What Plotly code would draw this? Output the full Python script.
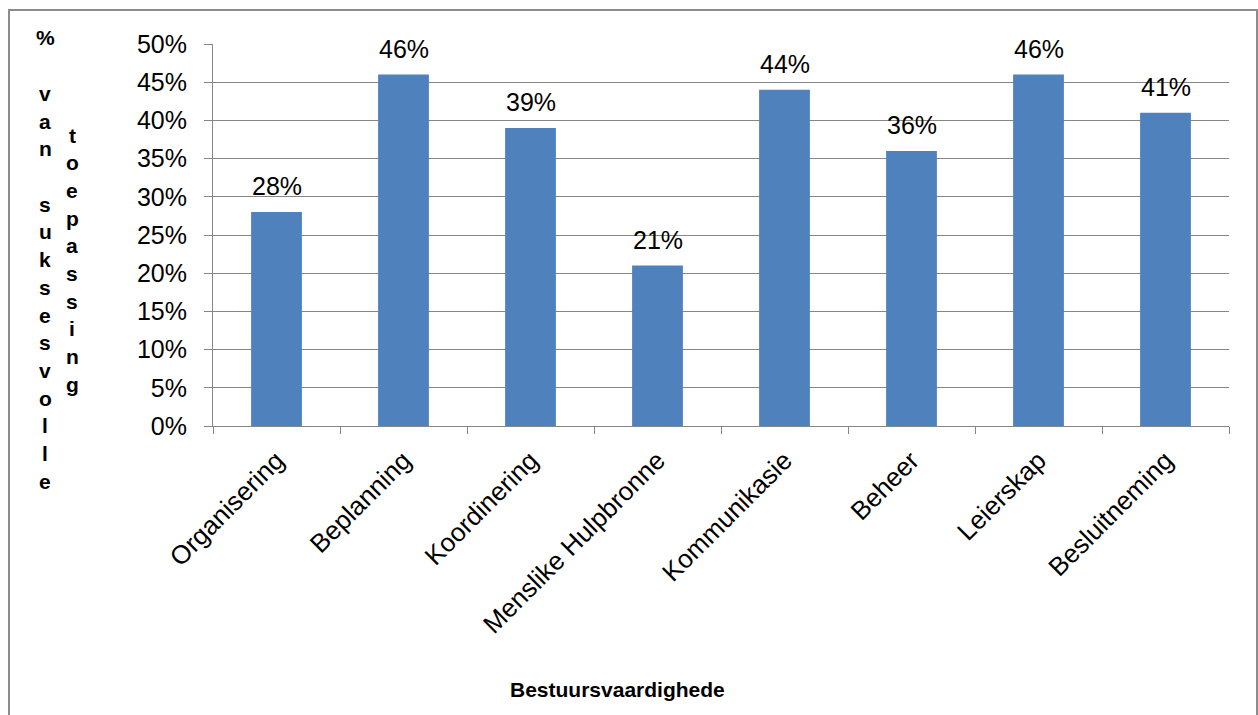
import plotly.graph_objects as go

categories = ["Organisering", "Beplanning", "Koordinering", "Menslike Hulpbronne",
              "Kommunikasie", "Beheer", "Leierskap", "Besluitneming"]
values = [0.28, 0.46, 0.39, 0.21, 0.44, 0.36, 0.46, 0.41]
y_ticks = [0, 0.05, 0.10, 0.15, 0.20, 0.25, 0.30, 0.35, 0.40, 0.45, 0.50]
x_title = "Bestuursvaardighede"
y_title_col1 = ["%", "", "v", "a", "n", "", "s", "u", "k", "s", "e", "s", "v", "o", "l", "l", "e"]
y_title_col2 = ["t", "o", "e", "p", "a", "s", "s", "i", "n", "g"]

W, H = 1258, 715
L, R, T, B = 213, 29, 44, 289
pw, ph = W - L - R, H - T - B
FONT = "Arial, Liberation Sans, sans-serif"
LABEL_SIZE = 25
XLABEL_SIZE = 26
TITLE_SIZE = 21

def px_x(x):
    return (x - L) / pw

def px_y(y):
    return (H - B - y) / ph

fig = go.Figure()
fig.add_trace(go.Bar(
    x=categories, y=values,
    marker=dict(color="#4F81BD", line=dict(width=0)),
    width=0.4,
    hoverinfo="x+y",
))

annotations = []
# data labels
for c, v in zip(categories, values):
    annotations.append(dict(text=f"{round(v * 100)}%", x=c, y=v, xref="x", yref="y",
                            showarrow=False, xanchor="center", yanchor="bottom",
                            yshift=10, font=dict(size=LABEL_SIZE, color="#000", family=FONT)))

line_h = 27.7
for i, ch in enumerate(y_title_col1):
    if ch:
        annotations.append(dict(text=f"<b>{ch}</b>", xref="paper", yref="paper",
                                x=px_x(45), y=px_y(38 + i * line_h), showarrow=False,
                                font=dict(size=TITLE_SIZE, color="#000", family=FONT),
                                xanchor="center", yanchor="middle"))
for i, ch in enumerate(y_title_col2):
    annotations.append(dict(text=f"<b>{ch}</b>", xref="paper", yref="paper",
                            x=px_x(72), y=px_y(135 + i * line_h), showarrow=False,
                            font=dict(size=TITLE_SIZE, color="#000", family=FONT),
                            xanchor="center", yanchor="middle"))
annotations.append(dict(text=f"<b>{x_title}</b>", xref="paper", yref="paper",
                        x=px_x(617), y=px_y(689), showarrow=False,
                        font=dict(size=TITLE_SIZE, color="#000", family=FONT),
                        xanchor="center", yanchor="middle"))

fig.update_layout(
    width=W, height=H,
    margin=dict(l=L, r=R, t=T, b=B, pad=0),
    paper_bgcolor="white", plot_bgcolor="white",
    font=dict(family=FONT, color="#000"),
    showlegend=False,
    annotations=annotations,
    shapes=[dict(type="rect", xref="paper", yref="paper",
                 x0=px_x(9), x1=px_x(1257), y0=px_y(740), y1=px_y(10),
                 line=dict(color="#8C8C8C", width=2), fillcolor="rgba(0,0,0,0)",
                 layer="below")],
    xaxis=dict(
        tickangle=-45, tickfont=dict(size=XLABEL_SIZE, color="#000", family=FONT),
        showline=True, linecolor="#868686", linewidth=1,
        ticks="outside", ticklen=7, tickcolor="#868686", tickson="boundaries",
        ticklabelstandoff=8,
        showgrid=False,
    ),
    yaxis=dict(
        range=[0, 0.5], tickvals=y_ticks, tickformat=".0%",
        tickfont=dict(size=LABEL_SIZE, color="#000", family=FONT),
        showline=True, linecolor="#868686", linewidth=1,
        ticks="outside", ticklen=8, tickcolor="#868686",
        ticklabelstandoff=12,
        showgrid=True, gridcolor="#868686", gridwidth=1,
        zeroline=False,
    ),
)

fig.write_html("out.html")
